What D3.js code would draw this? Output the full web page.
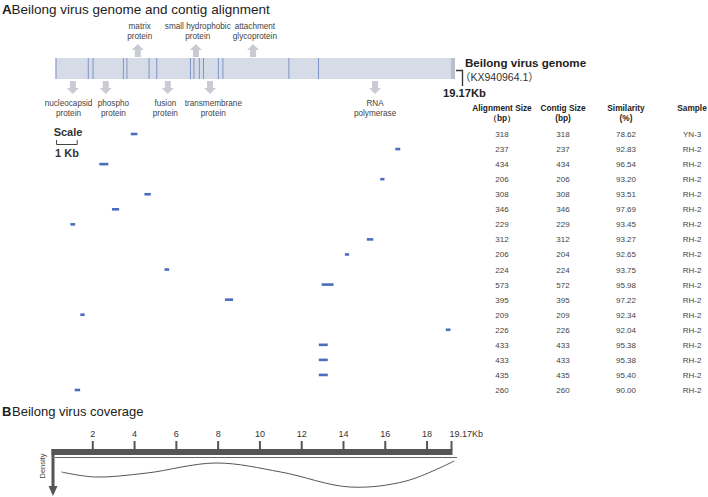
<!DOCTYPE html>
<html>
<head>
<meta charset="utf-8">
<script src="https://cdn.jsdelivr.net/npm/d3@7"></script>
<style>
  body { margin: 0; background: #fff; }
  text { font-family: "Liberation Sans", Arial, sans-serif; }
  .cjk { font-family: "Noto Sans CJK SC", sans-serif; }
</style>
</head>
<body>
<script>
//variables
var width = 708;
var height = 497;
var genomeLength = 19.17; // kb

//gene boundary lines inside the genome bar (kb)
var geneMarks = [0, 1.56, 1.79, 3.26, 3.43, 4.50, 4.87, 6.50, 6.67, 6.93, 7.13, 7.85, 8.07, 11.26, 12.69];

//protein annotations above the bar
var upNames = [["matrix", "protein"], ["small hydrophobic", "protein"], ["attachment", "glycoprotein"]];
var upArrowPos = [3.98, 6.79, 9.55];
var upLabelPos = [4.07, 6.88, 9.64];

//protein annotations below the bar
var downNames = [["nucleocapsid", "protein"], ["phospho", "protein"], ["fusion", "protein"], ["transmembrane", "protein"], ["RNA", "polymerase"]];
var downArrowPos = [0.84, 2.43, 5.43, 7.47, 15.45];
var downLabelPos = [0.63, 2.80, 5.31, 7.63, 15.45];

//contig table
var alignSize = [318, 237, 434, 206, 308, 346, 229, 312, 206, 224, 573, 395, 209, 226, 433, 433, 435, 260];
var contigSize = [318, 237, 434, 206, 308, 346, 229, 312, 204, 224, 572, 395, 209, 226, 433, 433, 435, 260];
var similarity = ["78.62", "92.83", "96.54", "93.20", "93.51", "97.69", "93.45", "93.27", "92.65", "93.75", "95.98", "97.22", "92.34", "92.04", "95.38", "95.38", "95.40", "90.00"];
var sample = ["YN-3", "RH-2", "RH-2", "RH-2", "RH-2", "RH-2", "RH-2", "RH-2", "RH-2", "RH-2", "RH-2", "RH-2", "RH-2", "RH-2", "RH-2", "RH-2", "RH-2", "RH-2"];
//where each contig starts on the genome (bp)
var contigStart = [3640, 16430, 2120, 15700, 4300, 2730, 720, 15050, 13990, 5270, 12870, 8190, 1200, 18870, 12730, 12730, 12730, 930];
var tableHeaders = [["Alignment Size", "（bp）"], ["Contig Size", "(bp)"], ["Similarity", "(%)"], ["Sample", ""]];

//coverage density along the genome (kb, relative density)
var covPos = [0.5, 2.1, 4.6, 7.9, 11.0, 14.3, 17.0, 19.3];
var covDensity = [15, 20, 16, 6, 15, 30, 24, 4];
var covTicks = [2, 4, 6, 8, 10, 12, 14, 16, 18];

//create canvas
var canvas = d3.select("body").append("svg")
            .attr("width", width)
            .attr("height", height);

//writes text, putting fullwidth brackets in a CJK font
function addText(sel, t) {
  t.split(/([（）])/).forEach(function (part) {
    if (part === "") return;
    var s = sel.append("tspan").text(part);
    if (part === "（" || part === "）") s.attr("class", "cjk");
  });
  return sel;
}

// ---------- panel A ----------
var x = d3.scaleLinear().domain([0, genomeLength]).range([55.5, 452]);

canvas.append("text").attr("x", 2).attr("y", 14)
      .attr("font-size", 13.5).attr("font-weight", "bold").attr("fill", "#222").text("A");
canvas.append("text").attr("x", 11.5).attr("y", 14)
      .attr("font-size", 13.5).attr("fill", "#222").text("Beilong virus genome and contig alignment");

//genome bar
canvas.append("rect")
      .attr("x", x(0)).attr("y", 58)
      .attr("width", x(genomeLength) - x(0) + 3).attr("height", 21)
      .attr("fill", "#d6dbe8");
canvas.append("rect")
      .attr("x", x(genomeLength) - 1).attr("y", 58)
      .attr("width", 4).attr("height", 21)
      .attr("fill", "#b9bfcc");

canvas.selectAll(".gene")
      .data(geneMarks)
      .enter()
      .append("line")
      .attr("x1", function (d) { return x(d) + 0.5 })
      .attr("x2", function (d) { return x(d) + 0.5 })
      .attr("y1", 58).attr("y2", 79)
      .attr("stroke", "#7f94c6")
      .attr("stroke-width", 1);

//block arrows
var arrowColor = "#c9cbd2";
function upArrow(cx, tip) {
  return "M" + cx + "," + tip + " l6,6 h-3 v7 h-6 v-7 h-3 z";
}
function downArrow(cx, tip) {
  return "M" + cx + "," + tip + " l6,-6 h-3 v-7 h-6 v7 h-3 z";
}

canvas.selectAll(".uparrow")
      .data(upArrowPos)
      .enter()
      .append("path")
      .attr("d", function (d) { return upArrow(x(d), 44) })
      .attr("fill", arrowColor);

canvas.selectAll(".downarrow")
      .data(downArrowPos)
      .enter()
      .append("path")
      .attr("d", function (d) { return downArrow(x(d), 94) })
      .attr("fill", arrowColor);

//protein labels
upNames.forEach(function (lines, i) {
  lines.forEach(function (t, j) {
    canvas.append("text")
          .attr("x", x(upLabelPos[i])).attr("y", 29 + j * 10)
          .attr("text-anchor", "middle").attr("font-size", 8.2).attr("fill", "#444")
          .text(t);
  });
});
downNames.forEach(function (lines, i) {
  lines.forEach(function (t, j) {
    canvas.append("text")
          .attr("x", x(downLabelPos[i])).attr("y", 106 + j * 10)
          .attr("text-anchor", "middle").attr("font-size", 8.2).attr("fill", "#444")
          .text(t);
  });
});

//genome name and length
canvas.append("path")
      .attr("d", "M456,70.5 H462.5 V86")
      .attr("fill", "none").attr("stroke", "#333").attr("stroke-width", 1.3);
canvas.append("text").attr("x", 465).attr("y", 67)
      .attr("font-size", 11.6).attr("font-weight", "bold").attr("fill", "#222")
      .text("Beilong virus genome");
addText(canvas.append("text").attr("x", 460).attr("y", 81)
      .attr("font-size", 10.5).attr("fill", "#333"), "（KX940964.1）");
canvas.append("text").attr("x", 443).attr("y", 97)
      .attr("font-size", 11.2).attr("font-weight", "bold").attr("fill", "#222")
      .text("19.17Kb");

//scale bar
canvas.append("text").attr("x", 68).attr("y", 136)
      .attr("text-anchor", "middle").attr("font-size", 11).attr("font-weight", "bold").attr("fill", "#333")
      .text("Scale");
canvas.append("path")
      .attr("d", "M" + x(0.05) + ",140 V144.5 H" + x(1.05) + " V140")
      .attr("fill", "none").attr("stroke", "#444").attr("stroke-width", 1);
canvas.append("text").attr("x", 67).attr("y", 157)
      .attr("text-anchor", "middle").attr("font-size", 11).attr("font-weight", "bold").attr("fill", "#333")
      .text("1 Kb");

//contigs and table rows
var row = d3.scalePoint().domain(d3.range(alignSize.length)).range([134, 390]);

canvas.selectAll(".contig")
      .data(alignSize)
      .enter()
      .append("rect")
      .attr("x", function (d, i) { return x(contigStart[i] / 1000) })
      .attr("y", function (d, i) { return row(i) - 1.3 })
      .attr("width", function (d) { return x(d / 1000) - x(0) })
      .attr("height", 2.6)
      .attr("fill", "#4a6dbd");

var colX = [502, 563, 626, 692];
tableHeaders.forEach(function (h, i) {
  h.forEach(function (t, j) {
    canvas.append("text")
          .attr("x", colX[i]).attr("y", 111 + j * 10)
          .attr("text-anchor", "middle").attr("font-size", 8.3).attr("font-weight", "bold").attr("fill", "#222")
          .text(t);
  });
});

var columns = [alignSize, contigSize, similarity, sample];
columns.forEach(function (col, c) {
  canvas.selectAll(".col" + c)
        .data(col)
        .enter()
        .append("text")
        .attr("x", colX[c])
        .attr("y", function (d, i) { return row(i) + 3 })
        .attr("text-anchor", "middle")
        .attr("font-size", 8)
        .attr("fill", "#444")
        .text(function (d) { return d });
});

// ---------- panel B ----------
canvas.append("text").attr("x", 2).attr("y", 416)
      .attr("font-size", 13).attr("font-weight", "bold").attr("fill", "#222").text("B");
canvas.append("text").attr("x", 12).attr("y", 416)
      .attr("font-size", 13).attr("fill", "#222").text("Beilong virus coverage");

var xb = d3.scaleLinear().domain([0, genomeLength]).range([51, 451.5]);
var yb = d3.scaleLinear().domain([0, 30]).range([457, 487]);

//thick genome axis
canvas.append("rect")
      .attr("x", 51.5).attr("y", 449)
      .attr("width", xb(genomeLength) - 51.5 + 1).attr("height", 6)
      .attr("fill", "#555");
canvas.append("line")
      .attr("x1", 55).attr("x2", 457).attr("y1", 457.5).attr("y2", 457.5)
      .attr("stroke", "#666").attr("stroke-width", 1);

var ticks = covTicks.concat([genomeLength]);
canvas.selectAll(".tick")
      .data(ticks)
      .enter()
      .append("line")
      .attr("x1", function (d) { return xb(d) })
      .attr("x2", function (d) { return xb(d) })
      .attr("y1", 441).attr("y2", 450)
      .attr("stroke", "#555").attr("stroke-width", 2);

canvas.selectAll(".ticklabel")
      .data(covTicks)
      .enter()
      .append("text")
      .attr("x", function (d) { return xb(d) })
      .attr("y", 437)
      .attr("text-anchor", "middle").attr("font-size", 9).attr("fill", "#333")
      .text(function (d) { return d });
canvas.append("text").attr("x", xb(genomeLength) - 2).attr("y", 437)
      .attr("font-size", 9).attr("fill", "#333").text("19.17Kb");

//density axis pointing down
canvas.append("rect")
      .attr("x", 51.5).attr("y", 449).attr("width", 3).attr("height", 38)
      .attr("fill", "#555");
canvas.append("path")
      .attr("d", "M48.5,486 H57.5 L53,496 Z")
      .attr("fill", "#555");
canvas.append("text")
      .attr("transform", "translate(45,466) rotate(-90)")
      .attr("text-anchor", "middle").attr("font-size", 7.5).attr("fill", "#444")
      .text("Density");

//coverage curve
var line = d3.line()
            .x(function (d, i) { return xb(covPos[i]) })
            .y(function (d) { return yb(d) })
            .curve(d3.curveCatmullRom);

canvas.append("path")
      .attr("d", line(covDensity))
      .attr("fill", "none")
      .attr("stroke", "#555")
      .attr("stroke-width", 1);
</script>
</body>
</html>
